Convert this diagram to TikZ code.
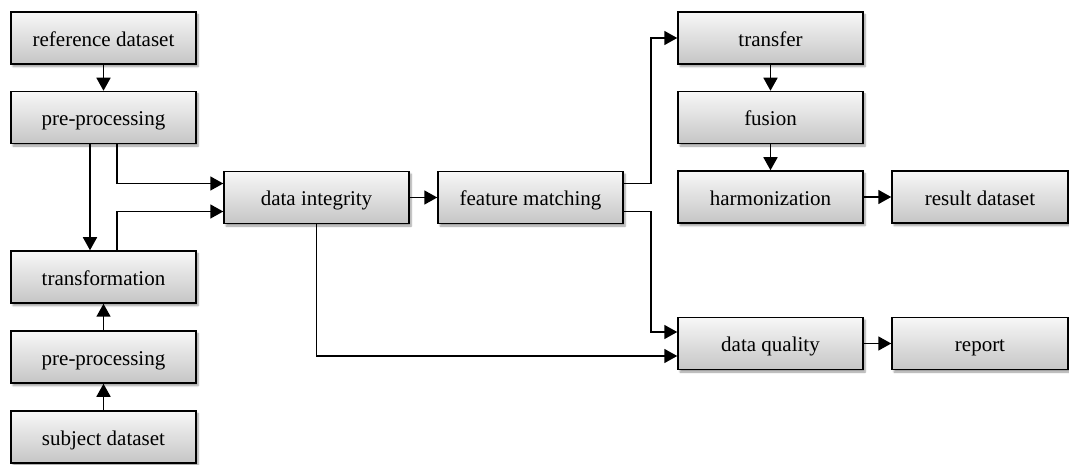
\documentclass[tikz,border=0pt]{standalone}
\usepackage{fontspec}
\setmainfont{Liberation Serif}
\usetikzlibrary{arrows.meta,shadows.blur}
\begin{document}
\begin{tikzpicture}[x=1pt,y=-1pt,
  box/.style={draw=black,line width=1.5pt,minimum width=185pt,minimum height=52pt,
    inner sep=0pt,text height=19pt,text depth=2pt,top color=gray!6,bottom color=gray!45,
    blur shadow={shadow xshift=2pt,shadow yshift=-2.5pt,shadow blur steps=6,shadow opacity=40},
    font=\fontsize{21}{24}\selectfont},
  arr/.style={line width=1.7pt,-{Triangle[length=13pt,width=14pt]}}]
\useasboundingbox (0,0) rectangle (1069,465);
\node[box] (ref) at (103.5,38) {reference dataset};
\node[box] (pre1) at (103.5,117.5) {pre-processing};
\node[box] (trans) at (103.5,277) {transformation};
\node[box] (pre2) at (103.5,357) {pre-processing};
\node[box] (subj) at (103.5,437) {subject dataset};
\node[box] (di) at (316.5,197.5) {data integrity};
\node[box] (fm) at (530.5,197.5) {feature matching};
\node[box] (tr) at (770.5,38) {transfer};
\node[box] (fu) at (770.5,117.5) {fusion};
\node[box] (ha) at (770.5,197) {harmonization};
\node[box,minimum width=176pt] (res) at (980,197) {result dataset};
\node[box] (dq) at (770.5,343.5) {data quality};
\node[box,minimum width=176pt] (rep) at (980,343.5) {report};

\draw[arr] (ref) -- (pre1);
\draw[arr] ([xshift=-13.5pt]pre1.south) -- ([xshift=-13.5pt]trans.north);
\draw[arr] ([xshift=13.5pt]pre1.south) |- ([yshift=14pt]di.west);
\draw[arr] ([xshift=13.5pt]trans.north) |- ([yshift=-14pt]di.west);
\draw[arr] (pre2) -- (trans);
\draw[arr] (subj) -- (pre2);
\draw[arr] (di) -- (fm);
\draw[arr] ([yshift=14pt]fm.east) -- ++(27,0) |- (tr.west);
\draw[arr] ([yshift=-14pt]fm.east) -- ++(27,0) |- ([yshift=11.5pt]dq.west);
\draw[arr] (di.south) |- ([yshift=-12.5pt]dq.west);
\draw[arr] (tr) -- (fu);
\draw[arr] (fu) -- (ha);
\draw[arr] (ha) -- (res);
\draw[arr] (dq) -- (rep);
\end{tikzpicture}
\end{document}
